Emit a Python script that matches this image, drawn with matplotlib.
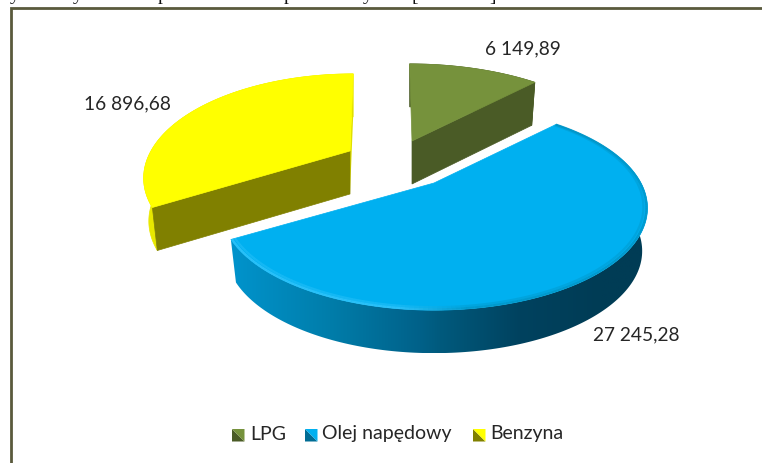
#!/usr/bin/env python3
# exploded 3D pie of fuel values, drawn by projecting each slice from its angle
import numpy as np
import matplotlib
matplotlib.use("Agg")
import matplotlib.pyplot as plt
from matplotlib.collections import LineCollection
from matplotlib.patches import Polygon

categories = ["LPG", "Olej napędowy", "Benzyna"]
values = [6149.89, 27245.28, 16896.68]
value_labels = ["6 149,89", "27 245,28", "16 896,68"]

# styles and layout, in pixels of the 762x463 picture
FONT = "Lato"
TEXT = "#262626"
TOP = ["#76923C", "#00B0F0", "#FFFF00"]
FACE = ["#4A5B26", "#006C94", "#808000"]
APEX = [(412, 141), (434, 183), (350, 151)]
LEAN = [-3, 0, 4]           # the far edge of a slice leans a little
RX = [211.0, 207.0, 199.0]
LABEL_POS = [(523, 49), (636, 335), (127, 104)]
RY, K = 96.0, 0.245
DEPTH = 43.0
SHRINK = 0.975              # the underside is a little narrower than the top

# wall colours against screen x
BLUE_X = [229, 330, 420, 440, 520, 600, 646]
BLUE_C = np.array([[0, 148, 205], [0, 125, 170], [0, 97, 137], [0, 90, 125],
                   [0, 66, 95], [0, 60, 85], [0, 60, 85]]) / 255
WALL = {0: "#4A5B26", 2: "#E8E800"}


def project(i, theta, r=1.0):
    """screen position of a point on the top of slice i, theta clockwise from north"""
    u, v = r * np.sin(theta), r * np.cos(theta)
    w = 1 + K * v
    return APEX[i][0] + (RX[i] * u + LEAN[i] * v) / w, APEX[i][1] - RY * v / w


def under(i, x, y):
    """the point below a top point, on the underside of slice i"""
    return APEX[i][0] + (x - APEX[i][0]) * SHRINK, y + DEPTH


fig = plt.figure(figsize=(7.62, 4.63), dpi=100)
ax = fig.add_axes([0, 0, 1, 1])

# frame of the chart, open at the right and the bottom edge
ax.plot([11, 11, 762], [463, 8, 8], color="#5A5A3C", lw=2, solid_joinstyle="miter")

# what is left of the caption above the chart
for ch, x in zip("yyppy[]", [15, 78, 163, 288, 368, 415, 493]):
    ax.text(x, 0.5, ch, family="Liberation Serif", fontsize=14, color="#111111",
            ha="center", va="baseline")

fractions = np.array(values) / sum(values)
edges = np.concatenate([[0], np.cumsum(fractions)]) * 2 * np.pi

for z, i in enumerate([0, 2, 1]):
    base = 10 * (z + 1)
    t = np.linspace(edges[i], edges[i + 1], 200)
    xs, ys = project(i, t)
    bx, by = under(i, xs, ys)
    ax_, ay = APEX[i]

    # outer wall, a gradient image clipped to the wall outline
    outline = np.r_[np.c_[xs, ys], np.c_[bx, by][::-1]]
    wall = Polygon(outline, fc="none", ec="none", transform=ax.transData)
    ax.add_patch(wall)
    if i == 1:
        gx = np.linspace(xs.min(), xs.max(), 400)
        grad = np.stack([np.interp(gx, BLUE_X, BLUE_C[:, c]) for c in range(3)], axis=-1)[None, :, :]
        im = ax.imshow(grad, extent=(gx[0], gx[-1], by.max(), ys.min()),
                       aspect="auto", zorder=base, interpolation="bilinear")
        im.set_clip_path(wall)
    else:
        wall.set(fc=WALL[i], ec=WALL[i], lw=0.5, zorder=base)

    # flat cut faces: Benzyna shows both, LPG the one after its arc
    if i == 2:
        ax.add_patch(Polygon([(ax_, ay), (xs[-1], ys[-1]), (bx[-1], by[-1]),
                              (ax_, ay + DEPTH)], fc="#E0E000", ec="none", zorder=base + 1))
    if i != 1:
        j = -1 if i == 0 else 0
        ax.add_patch(Polygon([(ax_, ay), (xs[j], ys[j]), (bx[j], by[j]),
                              (ax_, ay + DEPTH)], fc=FACE[i], ec=FACE[i], lw=0.5, zorder=base + 2))

    # top of the slice
    ax.add_patch(Polygon(np.r_[[(ax_, ay)], np.c_[xs, ys]], fc=TOP[i], ec=TOP[i], lw=0.5,
                         zorder=base + 3))

    # soft bevel along the rim of the big slice
    if i == 1:
        for r, alpha in [(0.995, 0.6), (0.982, 0.3)]:
            rx_, ry_ = project(i, t, r)
            segs = [[(rx_[a], ry_[a]), (rx_[a + 1], ry_[a + 1])] for a in range(len(t) - 1)]
            shade = np.interp(rx_[:-1], [229, 400, 470, 646], [1, 1, 0, 0])
            rim = [(0.27 * s, 0.55 + 0.25 * s, 0.72 + 0.28 * s, alpha) for s in shade]
            ax.add_collection(LineCollection(segs, colors=rim, linewidths=1.6, zorder=base + 4))

for pos, label in zip(LABEL_POS, value_labels):
    ax.text(pos[0], pos[1], label, family=FONT, fontsize=13.8, color=TEXT,
            ha="center", va="center", zorder=100)

# legend with the bevelled keys of the original
key_x = [232, 305, 473]
text_x = [250, 322, 490]
for i, name in enumerate(categories):
    x0, y0, s = key_x[i], 429, 12.5
    ax.add_patch(Polygon([(x0, y0 + s), (x0, y0), (x0 + s, y0 + s)], fc=FACE[i], ec="none"))
    ax.add_patch(Polygon([(x0 + s, y0), (x0, y0), (x0 + s, y0 + s)], fc=TOP[i], ec="none"))
    ax.text(text_x[i], 434, name, family=FONT, fontsize=14, color=TEXT,
            ha="left", va="center")

ax.set_xlim(0, 762)
ax.set_ylim(463, 0)
ax.axis("off")

fig.savefig("out.png", dpi=100)
